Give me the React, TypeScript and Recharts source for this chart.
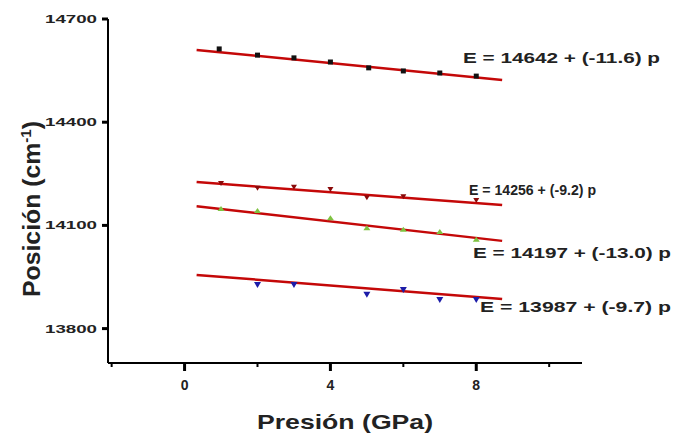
import React from 'react';
import { ComposedChart, Line, Scatter, XAxis, YAxis, Customized } from 'recharts';

// Pressure (GPa) of the measured points
const pressuresA = [0.95, 2, 3, 4, 5.05, 6, 7, 8];
const pressuresB = [1, 2, 3, 4, 5, 6, 8];
const pressuresC = [1, 2, 4, 5, 6, 7, 8];
const pressuresD = [2, 3, 5, 6, 7, 8];

// Peak positions (cm^-1)
const valuesA = [14613, 14595, 14587, 14575, 14558, 14549, 14543, 14534];
const valuesB = [14226, 14212, 14215, 14209, 14185, 14188, 14177];
const valuesC = [14148, 14142, 14121, 14092, 14087, 14081, 14058];
const valuesD = [13930, 13930, 13901, 13915, 13886, 13886];

// Linear fits (start / end)
const fitPressures = [0.33, 8.71];
const fitA = [14610, 14523];
const fitB = [14226, 14159];
const fitC = [14156, 14055];
const fitD = [13956, 13886];

const equations = [
  'E = 14642 + (-11.6) p',
  'E = 14256 + (-9.2) p',
  'E = 14197 + (-13.0) p',
  'E = 13987 + (-9.7) p',
];

const xTicks = [-2, 0, 2, 4, 6, 8, 10];
const xMajor = [0, 4, 8];
const yTicks = [13800, 14100, 14400, 14700];

const toPts = (ps: number[], vs: number[]) => ps.map((p, i) => ({ p, v: vs[i] }));

const ptsA = toPts(pressuresA, valuesA);
const ptsB = toPts(pressuresB, valuesB);
const ptsC = toPts(pressuresC, valuesC);
const ptsD = toPts(pressuresD, valuesD);
const lineA = toPts(fitPressures, fitA);
const lineB = toPts(fitPressures, fitB);
const lineC = toPts(fitPressures, fitC);
const lineD = toPts(fitPressures, fitD);

const FONT = 'Liberation Sans, Arial, sans-serif';
const RED = '#c40808';

const XTick = (props: any) => {
  const { x, y, payload } = props;
  const major = xMajor.includes(payload.value);
  return (
    <g>
      <line x1={x} x2={x} y1={y} y2={y + (major ? 8 : 4)} stroke="#000" strokeWidth={major ? 3 : 2} />
      {major && (
        <text x={x} y={y + 27} textAnchor="middle" fontFamily={FONT} fontWeight="bold" fontSize={14} fill="#222">
          {payload.value}
        </text>
      )}
    </g>
  );
};

const YTick = (props: any) => {
  const { x, y, payload } = props;
  return (
    <g>
      <line x1={x - 6} x2={x} y1={y} y2={y} stroke="#000" strokeWidth={3} />
      <text x={x - 63} y={y + 4} textLength={52} lengthAdjust="spacingAndGlyphs" fontFamily={FONT} fontWeight="bold" fontSize={11} fill="#222">
        {payload.value}
      </text>
    </g>
  );
};

const Square = (props: any) => {
  const { cx, cy } = props;
  return <rect x={cx - 2.5} y={cy - 2.5} width={5} height={5} fill="#111" />;
};
const TriDownRed = (props: any) => {
  const { cx, cy } = props;
  return <path d={`M${cx - 3},${cy - 1} L${cx + 3},${cy - 1} L${cx},${cy + 4} Z`} fill="#8a0a0a" />;
};
const TriGreen = (props: any) => {
  const { cx, cy } = props;
  return <path d={`M${cx - 3.5},${cy + 2} L${cx + 3.5},${cy + 2} L${cx},${cy - 3} Z`} fill="#7fc241" />;
};
const TriDownBlue = (props: any) => {
  const { cx, cy } = props;
  return <path d={`M${cx - 3.5},${cy - 2} L${cx + 3.5},${cy - 2} L${cx},${cy + 4} Z`} fill="#1c1ca8" />;
};

const labelPos = [
  { x: 463, y: 63, w: 197 },
  { x: 469, y: 195, w: 127 },
  { x: 473, y: 258, w: 198 },
  { x: 480, y: 312, w: 191 },
];

const Annotations = () => (
  <g>
    {equations.map((t, i) => (
      <text
        key={i}
        x={labelPos[i].x}
        y={labelPos[i].y}
        textLength={labelPos[i].w}
        lengthAdjust="spacingAndGlyphs"
        fontFamily={FONT}
        fontWeight="bold"
        fontSize={15}
        fill="#222"
      >
        {t}
      </text>
    ))}
    <text x={257} y={429} textLength={176} lengthAdjust="spacingAndGlyphs" fontFamily={FONT} fontWeight="bold" fontSize={21} fill="#222">
      Presión (GPa)
    </text>
    <text
      transform="translate(40, 297) rotate(-90)"
      x={0}
      y={0}
      textLength={176}
      lengthAdjust="spacingAndGlyphs"
      fontFamily={FONT}
      fontWeight="bold"
      fontSize={23}
      fill="#222"
    >
      Posición (cm<tspan dy={-9} fontSize={14}>-1</tspan><tspan dy={9}>)</tspan>
    </text>
  </g>
);

export default function App() {
  return (
    <div style={{ position: 'absolute', left: 0, top: 0, width: 673, height: 440, background: '#fff' }}>
      <ComposedChart width={673} height={440} margin={{ top: 19, right: 91, bottom: 47, left: 0 }}>
        <XAxis
          dataKey="p"
          type="number"
          domain={[-2.1, 10.9]}
          ticks={xTicks}
          interval={0}
          tickSize={0}
          tickMargin={0}
          tick={<XTick />}
          axisLine={{ stroke: '#000', strokeWidth: 2 }}
          tickLine={false}
          height={30}
          allowDataOverflow
        />
        <YAxis
          dataKey="v"
          type="number"
          domain={[13700, 14700]}
          ticks={yTicks}
          interval={0}
          tickSize={0}
          tickMargin={0}
          tick={<YTick />}
          axisLine={{ stroke: '#000', strokeWidth: 2 }}
          tickLine={false}
          width={108}
          allowDataOverflow
        />
        <Line data={lineA} dataKey="v" stroke={RED} strokeWidth={2.5} dot={false} isAnimationActive={false} />
        <Line data={lineB} dataKey="v" stroke={RED} strokeWidth={2.5} dot={false} isAnimationActive={false} />
        <Line data={lineC} dataKey="v" stroke={RED} strokeWidth={2.5} dot={false} isAnimationActive={false} />
        <Line data={lineD} dataKey="v" stroke={RED} strokeWidth={2.5} dot={false} isAnimationActive={false} />
        <Scatter data={ptsA} dataKey="v" shape={<Square />} isAnimationActive={false} />
        <Scatter data={ptsB} dataKey="v" shape={<TriDownRed />} isAnimationActive={false} />
        <Scatter data={ptsC} dataKey="v" shape={<TriGreen />} isAnimationActive={false} />
        <Scatter data={ptsD} dataKey="v" shape={<TriDownBlue />} isAnimationActive={false} />
        <Customized component={Annotations} />
      </ComposedChart>
    </div>
  );
}
